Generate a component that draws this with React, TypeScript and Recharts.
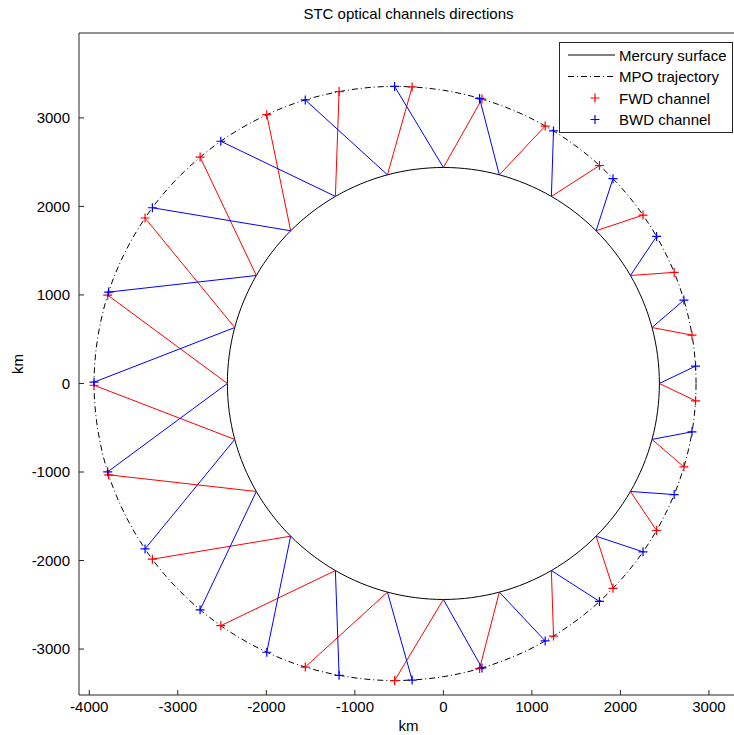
import React from 'react';
import { ComposedChart, Line, Scatter, XAxis, YAxis, Legend } from 'recharts';

// ---------- data (km) ----------
const xTicks = [-4000, -3000, -2000, -1000, 0, 1000, 2000, 3000];
const yTicks = [-3000, -2000, -1000, 0, 1000, 2000, 3000];

// Mercury surface ground points (every 15 deg)
const surfaceX = [2440, 2357, 2113, 1725, 1220, 632, 0, -632, -1220, -1725, -2113, -2357, -2440, -2357, -2113, -1725, -1220, -632, 0, 632, 1220, 1725, 2113, 2357];
const surfaceY = [0, 632, 1220, 1725, 2113, 2357, 2440, 2357, 2113, 1725, 1220, 632, 0, -632, -1220, -1725, -2113, -2357, -2440, -2357, -2113, -1725, -1220, -632];

// MPO trajectory points
const trajX = [2854, 2770, 2518, 2103, 1533, 823, 0, -894, -1801, -2642, -3332, -3787, -3946, -3787, -3332, -2642, -1801, -894, 0, 823, 1533, 2103, 2518, 2770];
const trajY = [0, 742, 1454, 2103, 2655, 3072, 3312, 3338, 3119, 2642, 1924, 1015, 0, -1015, -1924, -2642, -3119, -3338, -3312, -3072, -2655, -2103, -1454, -742];

// FWD channel spacecraft positions (one per surface point)
const fwdX = [2848, 2808, 2607, 2255, 1763, 1150, 436, -353, -1178, -1995, -2748, -3370, -3792, -3946, -3781, -3287, -2514, -1560, -551, 409, 1244, 1916, 2408, 2717];
const fwdY = [-196, 546, 1255, 1902, 2462, 2908, 3213, 3350, 3297, 3036, 2557, 1869, 998, -20, -1032, -1985, -2736, -3203, -3356, -3220, -2853, -2314, -1661, -942];

// BWD channel spacecraft positions (one per surface point)
const bwdX = [2848, 2717, 2408, 1916, 1244, 409, -551, -1560, -2514, -3287, -3781, -3946, -3792, -3370, -2748, -1995, -1178, -353, 436, 1150, 1763, 2255, 2607, 2808];
const bwdY = [196, 942, 1661, 2314, 2853, 3220, 3356, 3203, 2736, 1985, 1032, 15, -998, -1869, -2557, -3036, -3297, -3350, -3213, -2908, -2462, -1902, -1255, -546];

// ---------- tables built from the arrays ----------
const surfaceData = surfaceX.map((x, i) => ({ x, y: surfaceY[i] }));
const trajData = trajX.map((x, i) => ({ x, y: trajY[i] }));
const fwdPoints = fwdX.map((x, i) => ({ x, y: fwdY[i] }));
const bwdPoints = bwdX.map((x, i) => ({ x, y: bwdY[i] }));
const fwdSegments = fwdPoints.map((p, i) => [p, surfaceData[i]]);
const bwdSegments = bwdPoints.map((p, i) => [p, surfaceData[i]]);

const RED = '#ff0000';
const BLUE = '#0000ff';
const AXIS = '#262626';
const FONT = "'Liberation Sans', Arial, Helvetica, sans-serif";
const FS = 15;

// closed smooth curve (Catmull-Rom) used for the circle and the orbit
function closedSpline(context: any) {
  let pts: number[][] = [];
  return {
    areaStart() {},
    areaEnd() {},
    lineStart() {
      pts = [];
    },
    point(x: number, y: number) {
      pts.push([+x, +y]);
    },
    lineEnd() {
      const n = pts.length;
      if (!n) return;
      context.moveTo(pts[0][0], pts[0][1]);
      for (let i = 0; i < n; i++) {
        const p0 = pts[(i - 1 + n) % n];
        const p1 = pts[i];
        const p2 = pts[(i + 1) % n];
        const p3 = pts[(i + 2) % n];
        context.bezierCurveTo(
          p1[0] + (p2[0] - p0[0]) / 6,
          p1[1] + (p2[1] - p0[1]) / 6,
          p2[0] - (p3[0] - p1[0]) / 6,
          p2[1] - (p3[1] - p1[1]) / 6,
          p2[0],
          p2[1]
        );
      }
      context.closePath();
    },
  };
}

const plus = (color: string) => (props: any) => {
  const { cx, cy } = props;
  if (cx == null || cy == null) return <g />;
  return (
    <path
      d={`M${cx - 4.5},${cy}H${cx + 4.5}M${cx},${cy - 4.5}V${cy + 4.5}`}
      stroke={color}
      strokeWidth={1.2}
      fill="none"
    />
  );
};

const LegendBox = () => {
  const rows = [13, 34.5, 56, 77.5];
  const labels = ['Mercury surface', 'MPO trajectory', 'FWD channel', 'BWD channel'];
  return (
    <div
      style={{
        width: 174,
        height: 91,
        boxSizing: 'border-box',
        border: `1px solid ${AXIS}`,
        background: '#fff',
        position: 'relative',
      }}
    >
      <svg width={174} height={91} style={{ position: 'absolute', left: -1, top: -1 }}>
        <line x1={9} x2={56} y1={rows[0]} y2={rows[0]} stroke="#000" strokeWidth={1} />
        <line x1={9} x2={56} y1={rows[1]} y2={rows[1]} stroke="#000" strokeWidth={1} strokeDasharray="6 3 1 3" />
        <path d={`M${36 - 4.5},${rows[2]}H${36 + 4.5}M36,${rows[2] - 4.5}V${rows[2] + 4.5}`} stroke={RED} strokeWidth={1.2} />
        <path d={`M${36 - 4.5},${rows[3]}H${36 + 4.5}M36,${rows[3] - 4.5}V${rows[3] + 4.5}`} stroke={BLUE} strokeWidth={1.2} />
        {labels.map((t, i) => (
          <text key={t} x={60} y={rows[i] + 5.5} fontSize={FS} fill="#000" fontFamily={FONT}>
            {t}
          </text>
        ))}
      </svg>
    </div>
  );
};

const YLabel = () => (
  <text
    x={23}
    y={364}
    transform="rotate(-90 23 364)"
    textAnchor="middle"
    fontSize={FS}
    fill="#000"
    fontFamily={FONT}
  >
    km
  </text>
);

export default function App() {
  const xDomain: [number, number] = [-4116, 3328];
  const yDomain: [number, number] = [-3519, 3959];
  return (
    <div
      style={{
        position: 'absolute',
        left: 0,
        top: 0,
        width: 734,
        height: 735,
        overflow: 'hidden',
        background: '#fff',
        fontFamily: FONT,
      }}
    >
      <ComposedChart width={760} height={735} margin={{ top: 32, right: 21, bottom: 0, left: 0 }}>
        <XAxis
          type="number"
          dataKey="x"
          domain={xDomain}
          ticks={xTicks}
          interval={0}
          allowDataOverflow
          height={40}
          tickSize={-5}
          tickMargin={11}
          tick={{ fill: '#000', fontSize: FS }}
          tickLine={{ stroke: AXIS }}
          axisLine={{ stroke: AXIS }}
          label={{ value: 'km', position: 'insideBottom', offset: 4, fill: '#000', fontSize: FS }}
        />
        <XAxis
          xAxisId="top"
          orientation="top"
          type="number"
          dataKey="x"
          domain={xDomain}
          ticks={xTicks}
          interval={0}
          allowDataOverflow
          height={1}
          tickSize={-5}
          tick={false}
          tickLine={{ stroke: AXIS }}
          axisLine={{ stroke: AXIS }}
          label={{ value: 'STC optical channels directions', position: 'top', offset: 13, fill: '#000', fontSize: FS }}
        />
        <YAxis
          type="number"
          domain={yDomain}
          ticks={yTicks}
          interval={0}
          allowDataOverflow
          width={79}
          tickSize={-5}
          tickMargin={14}
          tick={{ fill: '#000', fontSize: FS }}
          tickLine={{ stroke: AXIS }}
          axisLine={{ stroke: AXIS }}
          label={<YLabel />}
        />
        <YAxis
          yAxisId="right"
          orientation="right"
          type="number"
          domain={yDomain}
          ticks={yTicks}
          interval={0}
          allowDataOverflow
          width={1}
          tickSize={-5}
          tick={false}
          tickLine={{ stroke: AXIS }}
          axisLine={{ stroke: AXIS }}
        />
        <Line
          data={surfaceData}
          dataKey="y"
          type={closedSpline as any}
          stroke="#000"
          strokeWidth={1}
          dot={false}
          activeDot={false}
          isAnimationActive={false}
          legendType="none"
        />
        <Line
          data={trajData}
          dataKey="y"
          type={closedSpline as any}
          stroke="#000"
          strokeWidth={1}
          strokeDasharray="6 3 1 3"
          dot={false}
          activeDot={false}
          isAnimationActive={false}
          legendType="none"
        />
        {fwdSegments.map((seg, i) => (
          <Line
            key={'f' + i}
            data={seg}
            dataKey="y"
            type="linear"
            stroke={RED}
            strokeWidth={1}
            dot={false}
            activeDot={false}
            isAnimationActive={false}
            legendType="none"
          />
        ))}
        {bwdSegments.map((seg, i) => (
          <Line
            key={'b' + i}
            data={seg}
            dataKey="y"
            type="linear"
            stroke={BLUE}
            strokeWidth={1}
            dot={false}
            activeDot={false}
            isAnimationActive={false}
            legendType="none"
          />
        ))}
        <Scatter data={fwdPoints} dataKey="y" shape={plus(RED)} isAnimationActive={false} legendType="none" />
        <Scatter data={bwdPoints} dataKey="y" shape={plus(BLUE)} isAnimationActive={false} legendType="none" />
        <Legend
          layout="vertical"
          align="center"
          verticalAlign="middle"
          wrapperStyle={{ position: 'absolute', left: 559, top: 42, width: 174, height: 91 }}
          content={() => <LegendBox />}
        />
      </ComposedChart>
    </div>
  );
}
